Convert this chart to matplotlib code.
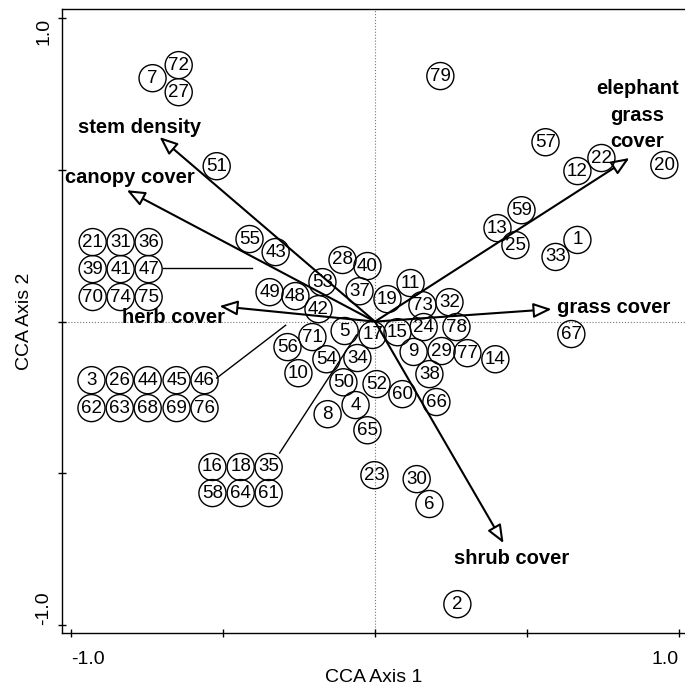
import matplotlib
matplotlib.use("Agg")
import matplotlib.pyplot as plt
from matplotlib.patches import FancyArrowPatch

plt.rcParams['font.family'] = ['Liberation Sans', 'DejaVu Sans']

# site scores (label positions as drawn)
site_ids = list(range(1, 80))
site_x = [0.666, 0.271, -0.933, -0.064, -0.100, 0.179, -0.732, -0.156, 0.127, -0.252,
          0.117, 0.666, 0.403, 0.396, 0.074, -0.535, -0.008, -0.442, 0.041, 0.952,
          -0.929, 0.745, -0.002, 0.160, 0.462, -0.840, -0.646, -0.107, 0.219, 0.137,
          -0.837, 0.245, 0.594, -0.058, -0.350, -0.745, -0.051, 0.179, -0.929, -0.025,
          -0.837, -0.186, -0.327, -0.748, -0.653, -0.561, -0.745, -0.262, -0.347, -0.104,
          -0.521, 0.005, -0.173, -0.160, -0.413, -0.288, 0.561, -0.535, 0.482, 0.090,
          -0.350, -0.933, -0.840, -0.442, -0.025, 0.202, 0.646, -0.748, -0.653, -0.929,
          -0.206, -0.646, 0.156, -0.837, -0.745, -0.561, 0.304, 0.268, 0.215]
site_y = [0.269, -0.931, -0.193, -0.275, -0.031, -0.601, 0.802, -0.305, -0.100, -0.170,
          0.127, 0.496, 0.308, -0.124, -0.035, -0.479, -0.044, -0.479, 0.074, 0.516,
          0.262, 0.539, -0.506, -0.018, 0.252, -0.193, 0.756, 0.203, -0.097, -0.519,
          0.262, 0.064, 0.213, -0.120, -0.479, 0.262, 0.100, -0.173, 0.173, 0.183,
          0.173, 0.041, 0.229, -0.193, -0.193, -0.193, 0.173, 0.084, 0.097, -0.200,
          0.512, -0.206, 0.130, -0.124, 0.272, -0.084, 0.591, -0.565, 0.367, -0.239,
          -0.565, -0.285, -0.285, -0.565, -0.358, -0.265, -0.041, -0.285, -0.285, 0.081,
          -0.051, 0.845, 0.054, 0.081, 0.081, -0.285, -0.104, -0.018, 0.809]

# environmental vectors (arrow tips) and label positions
env_names = ['stem density', 'canopy cover', 'herb cover',
             'elephant\ngrass\ncover', 'grass cover', 'shrub cover']
env_x = [-0.709, -0.817, -0.512, 0.837, 0.581, 0.423]
env_y = [0.608, 0.433, 0.051, 0.539, 0.041, -0.730]
env_lab_x = [-0.775, -0.807, -0.663, 0.864, 0.785, 0.449]
env_lab_y = [0.641, 0.476, 0.012, 0.680, 0.048, -0.782]

# leader lines from grouped labels to their site positions
leader_x0 = [-0.699, -0.521, -0.314]
leader_y0 = [0.176, -0.186, -0.433]
leader_x1 = [-0.406, -0.294, -0.061]
leader_y1 = [0.176, -0.012, -0.044]

fig = plt.figure(figsize=(6.85, 6.85), dpi=100)
ax = fig.add_axes([62 / 685, 52 / 685, 623 / 685, 624 / 685])
ax.set_xlim(-1.03, 1.02)
ax.set_ylim(-1.026, 1.03)

ax.axhline(0, color='#777777', ls=':', lw=0.8, zorder=1)
ax.axvline(0, color='#777777', ls=':', lw=0.8, zorder=1)

for x0, y0, x1, y1 in zip(leader_x0, leader_y0, leader_x1, leader_y1):
    ax.plot([x0, x1], [y0, y1], color='black', lw=1.0, zorder=2)

for ex, ey in zip(env_x, env_y):
    arr = FancyArrowPatch((0, 0), (ex, ey), arrowstyle='-|>,head_length=1.1,head_width=0.45',
                          mutation_scale=10, lw=1.5, edgecolor='black', facecolor='white',
                          shrinkA=0, shrinkB=0, zorder=3)
    ax.add_patch(arr)

for name, lx, ly in zip(env_names, env_lab_x, env_lab_y):
    ax.text(lx, ly, name, ha='center', va='center', fontsize=14.5, fontweight='bold',
            linespacing=1.5, zorder=4)

ax.scatter(site_x, site_y, s=19.5 ** 2, facecolors='none', edgecolors='black',
           linewidths=1.0, zorder=4)
for sid, sx, sy in zip(site_ids, site_x, site_y):
    ax.text(sx, sy, str(sid), ha='center', va='center', fontsize=13.5, zorder=5)

ax.spines['right'].set_visible(False)
for s in ['left', 'bottom', 'top']:
    ax.spines[s].set_linewidth(1.0)

ax.set_xticks([-1.0, -0.5, 0, 0.5, 1.0])
ax.set_xticklabels(['-1.0', '', '', '', '1.0'])
ax.set_yticks([-1.0, -0.5, 0, 0.5, 1.0])
ax.set_yticklabels(['-1.0', '', '', '', '1.0'], rotation=90)
ax.tick_params(direction='inout', length=6, width=1.0, labelsize=14)
ax.tick_params(axis='x', pad=10)
ax.tick_params(axis='y', pad=4)
xl = ax.get_xticklabels()
xl[0].set_ha('left')
xl[-1].set_ha('right')
yl = ax.get_yticklabels()
yl[0].set_va('bottom')
yl[-1].set_va('top')
for t in yl:
    t.set_ha('right')

ax.set_xlabel('CCA Axis 1', fontsize=14, labelpad=1)
ax.set_ylabel('CCA Axis 2', fontsize=14, labelpad=2)

fig.savefig('out.png', dpi=100)
